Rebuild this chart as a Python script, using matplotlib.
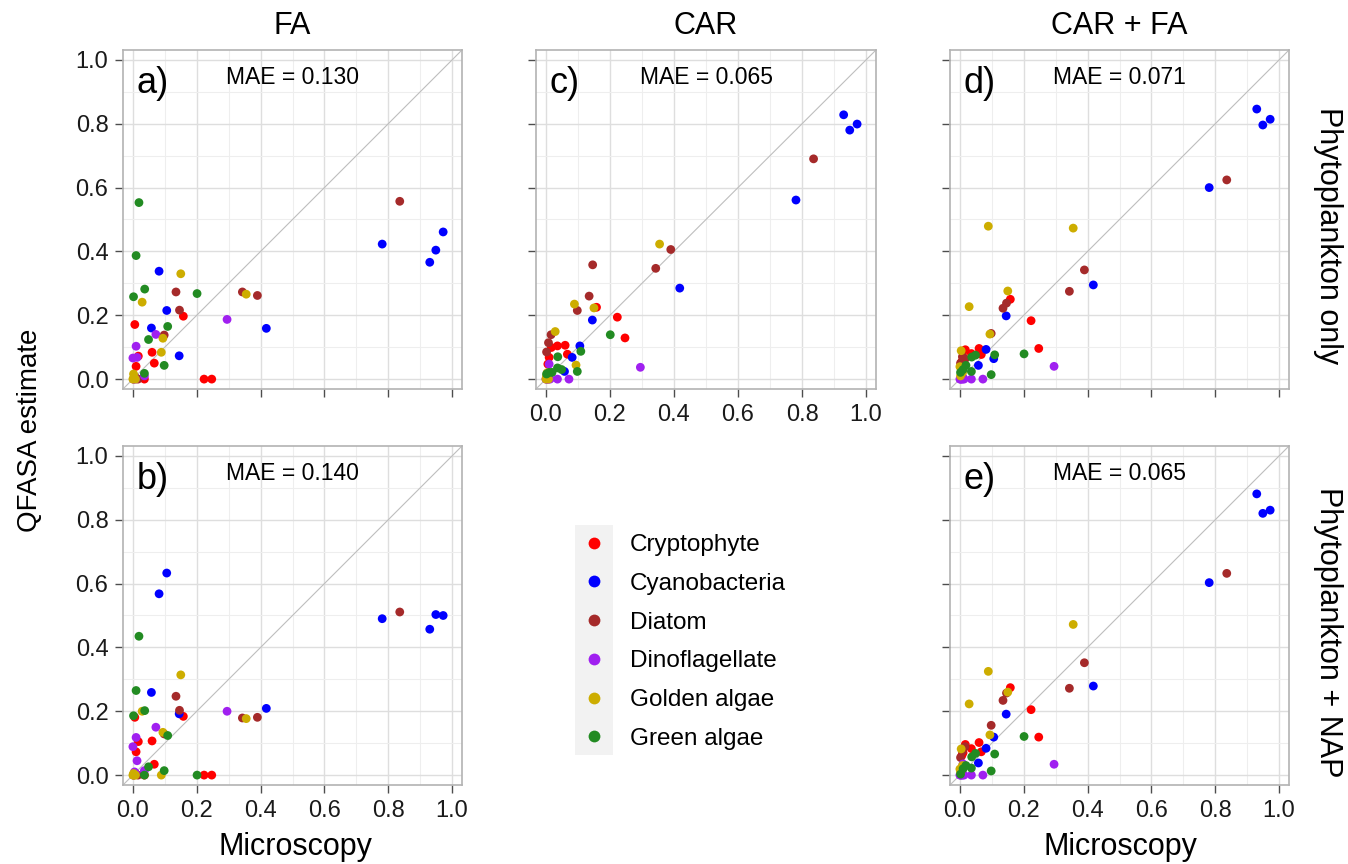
import matplotlib
matplotlib.use("Agg")
import matplotlib.pyplot as plt
from matplotlib.patches import Rectangle
from matplotlib.lines import Line2D

plt.rcParams['font.family'] = ['Liberation Sans', 'DejaVu Sans']

groups = ["Cryptophyte", "Cyanobacteria", "Diatom", "Dinoflagellate", "Golden algae", "Green algae"]
colors = ["#FF0000", "#0000FF", "#A52A2A", "#A020F0", "#CDAD00", "#228B22"]

# Microscopy (x) values per group
x_crypto = [0.006, 0.010, 0.017, 0.036, 0.060, 0.067, 0.158, 0.223, 0.247]
x_cyano = [0.058, 0.082, 0.106, 0.145, 0.418, 0.781, 0.930, 0.949, 0.972]
x_diatom = [0.002, 0.008, 0.016, 0.098, 0.135, 0.146, 0.343, 0.390, 0.836]
x_dino = [0.000, 0.002, 0.005, 0.008, 0.010, 0.013, 0.036, 0.072, 0.295]
x_golden = [0.000, 0.002, 0.004, 0.008, 0.029, 0.089, 0.094, 0.150, 0.355]
x_green = [0.002, 0.010, 0.019, 0.037, 0.036, 0.049, 0.098, 0.109, 0.201]

# QFASA estimates (y) per panel, per group
# a) FA, phytoplankton only
a_crypto = [0.171, 0.040, 0.072, 0.000, 0.084, 0.050, 0.197, 0.000, 0.000]
a_cyano = [0.160, 0.338, 0.215, 0.073, 0.159, 0.423, 0.366, 0.404, 0.461]
a_diatom = [0.000, 0.005, 0.000, 0.138, 0.273, 0.216, 0.273, 0.262, 0.557]
a_dino = [0.066, 0.000, 0.005, 0.000, 0.103, 0.068, 0.010, 0.140, 0.187]
a_golden = [0.000, 0.016, 0.005, 0.000, 0.241, 0.084, 0.128, 0.330, 0.266]
a_green = [0.258, 0.387, 0.553, 0.282, 0.018, 0.124, 0.043, 0.165, 0.268]
# b) FA, phytoplankton + NAP
b_crypto = [0.181, 0.073, 0.105, 0.000, 0.107, 0.034, 0.184, 0.000, 0.000]
b_cyano = [0.259, 0.568, 0.633, 0.192, 0.209, 0.490, 0.457, 0.503, 0.500]
b_diatom = [0.000, 0.005, 0.000, 0.129, 0.247, 0.203, 0.179, 0.181, 0.511]
b_dino = [0.089, 0.000, 0.010, 0.005, 0.118, 0.045, 0.014, 0.150, 0.200]
b_golden = [0.000, 0.005, 0.000, 0.000, 0.200, 0.000, 0.134, 0.314, 0.177]
b_green = [0.186, 0.265, 0.435, 0.202, 0.000, 0.026, 0.014, 0.124, 0.000]
# c) CAR, phytoplankton only
c_crypto = [0.047, 0.068, 0.099, 0.104, 0.106, 0.078, 0.225, 0.194, 0.129]
c_cyano = [0.024, 0.068, 0.104, 0.185, 0.285, 0.561, 0.828, 0.780, 0.799]
c_diatom = [0.085, 0.114, 0.139, 0.215, 0.260, 0.358, 0.347, 0.406, 0.690]
c_dino = [0.000, 0.000, 0.000, 0.000, 0.047, 0.000, 0.000, 0.000, 0.037]
c_golden = [0.000, 0.010, 0.020, 0.000, 0.149, 0.235, 0.044, 0.223, 0.423]
c_green = [0.016, 0.021, 0.021, 0.070, 0.035, 0.030, 0.024, 0.087, 0.139]
# d) CAR + FA, phytoplankton only
d_crypto = [0.055, 0.070, 0.092, 0.080, 0.096, 0.077, 0.250, 0.183, 0.096]
d_cyano = [0.043, 0.093, 0.064, 0.198, 0.295, 0.600, 0.846, 0.796, 0.814]
d_diatom = [0.050, 0.070, 0.063, 0.143, 0.222, 0.238, 0.275, 0.342, 0.624]
d_dino = [0.000, 0.000, 0.000, 0.000, 0.005, 0.000, 0.000, 0.000, 0.040]
d_golden = [0.039, 0.010, 0.089, 0.020, 0.227, 0.479, 0.141, 0.276, 0.473]
d_green = [0.021, 0.030, 0.043, 0.069, 0.024, 0.075, 0.014, 0.076, 0.079]
# e) CAR + FA, phytoplankton + NAP
e_crypto = [0.061, 0.070, 0.096, 0.083, 0.102, 0.073, 0.274, 0.205, 0.119]
e_cyano = [0.038, 0.084, 0.119, 0.191, 0.279, 0.603, 0.881, 0.820, 0.830]
e_diatom = [0.055, 0.075, 0.089, 0.156, 0.234, 0.257, 0.272, 0.352, 0.632]
e_dino = [0.000, 0.000, 0.000, 0.000, 0.035, 0.000, 0.000, 0.000, 0.034]
e_golden = [0.019, 0.010, 0.082, 0.030, 0.223, 0.325, 0.126, 0.260, 0.472]
e_green = [0.003, 0.020, 0.030, 0.057, 0.022, 0.068, 0.013, 0.066, 0.121]

xs = [x_crypto, x_cyano, x_diatom, x_dino, x_golden, x_green]
panels = {
    "a": [a_crypto, a_cyano, a_diatom, a_dino, a_golden, a_green],
    "b": [b_crypto, b_cyano, b_diatom, b_dino, b_golden, b_green],
    "c": [c_crypto, c_cyano, c_diatom, c_dino, c_golden, c_green],
    "d": [d_crypto, d_cyano, d_diatom, d_dino, d_golden, d_green],
    "e": [e_crypto, e_cyano, e_diatom, e_dino, e_golden, e_green],
}
mae = {"a": "0.130", "b": "0.140", "c": "0.065", "d": "0.071", "e": "0.065"}
col_titles = ["FA", "CAR", "CAR + FA"]
row_titles = ["Phytoplankton only", "Phytoplankton + NAP"]
ticks = [0.0, 0.2, 0.4, 0.6, 0.8, 1.0]
tick_labels = ["0.0", "0.2", "0.4", "0.6", "0.8", "1.0"]

W, H = 1348, 864
fig = plt.figure(figsize=(W / 100, H / 100), dpi=100)

def px_rect(x0, x1, y0, y1):
    return [x0 / W, 1 - y1 / H, (x1 - x0) / W, (y1 - y0) / H]

col_x = [(123, 462), (536, 876), (950, 1289)]
row_y = [(50, 389), (446, 785)]
layout = {"a": (0, 0), "c": (0, 1), "d": (0, 2), "b": (1, 0), "e": (1, 2)}
xlabels_on = {"b", "c", "e"}
ylabels_on = {"a", "b"}

lim = (-0.031, 1.031)
for key, (r, c) in layout.items():
    ax = fig.add_axes(px_rect(col_x[c][0], col_x[c][1], row_y[r][0], row_y[r][1]))
    ax.set_xlim(lim)
    ax.set_ylim(lim)
    ax.set_xticks(ticks)
    ax.set_yticks(ticks)
    ax.set_xticks([0.1, 0.3, 0.5, 0.7, 0.9], minor=True)
    ax.set_yticks([0.1, 0.3, 0.5, 0.7, 0.9], minor=True)
    ax.grid(True, which="major", color="#DEDEDE", linewidth=1.0, zorder=0)
    ax.grid(True, which="minor", color="#EEEEEE", linewidth=0.8, zorder=0)
    ax.set_axisbelow(True)
    for s in ax.spines.values():
        s.set_color("#B3B3B3")
        s.set_linewidth(1.2)
    ax.tick_params(which="major", length=5.5, width=1.0, color="#4D4D4D",
                   labelsize=17, labelcolor="#1A1A1A", pad=5)
    ax.tick_params(which="minor", length=0)
    ax.set_xticklabels(tick_labels if key in xlabels_on else [])
    ax.set_yticklabels(tick_labels if key in ylabels_on else [])
    ax.axline((0, 0), slope=1, color="#BEBEBE", linewidth=0.8, zorder=1)
    for gx, gy, col in zip(xs, panels[key], colors):
        ax.scatter(gx, gy, s=40, color=col, edgecolors="none", zorder=3)
    ax.text(0.012, 0.925, key + ")", fontsize=26, ha="left", va="center", color="black")
    ax.text(0.5, 0.944, "MAE = " + mae[key], fontsize=16.5, ha="center", va="center", color="black")

# column strip titles
for c, t in enumerate(col_titles):
    fig.text((col_x[c][0] + col_x[c][1]) / 2 / W, 1 - 26 / H, t, fontsize=22,
             ha="center", va="center")
# row strip titles
row_centers = [236, 632]
for r, t in enumerate(row_titles):
    fig.text(1328 / W, 1 - row_centers[r] / H, t, fontsize=22,
             ha="center", va="center", rotation=-90)

fig.text(30 / W, 1 - 430 / H, "QFASA estimate", fontsize=20, ha="center", va="center", rotation=90)
fig.text(295 / W, 1 - 855 / H, "Microscopy", fontsize=22, ha="center", va="baseline")
fig.text(1120 / W, 1 - 855 / H, "Microscopy", fontsize=22, ha="center", va="baseline")

# legend
fig.patches.append(Rectangle((575 / W, 1 - 755 / H), 38 / W, 230 / H,
                             transform=fig.transFigure, facecolor="#F2F2F2",
                             edgecolor="none", zorder=0))
handles = [Line2D([], [], marker="o", linestyle="none", markersize=8.5,
                  markerfacecolor=col, markeredgecolor="none") for col in colors]
fig.legend(handles, groups, loc="upper left", bbox_to_anchor=(575 / W, 1 - 534 / H),
           frameon=False, fontsize=17.5, borderpad=0, borderaxespad=0,
           handlelength=1.56, handletextpad=0.7, labelspacing=0.69)

fig.savefig("out.png", dpi=100)
